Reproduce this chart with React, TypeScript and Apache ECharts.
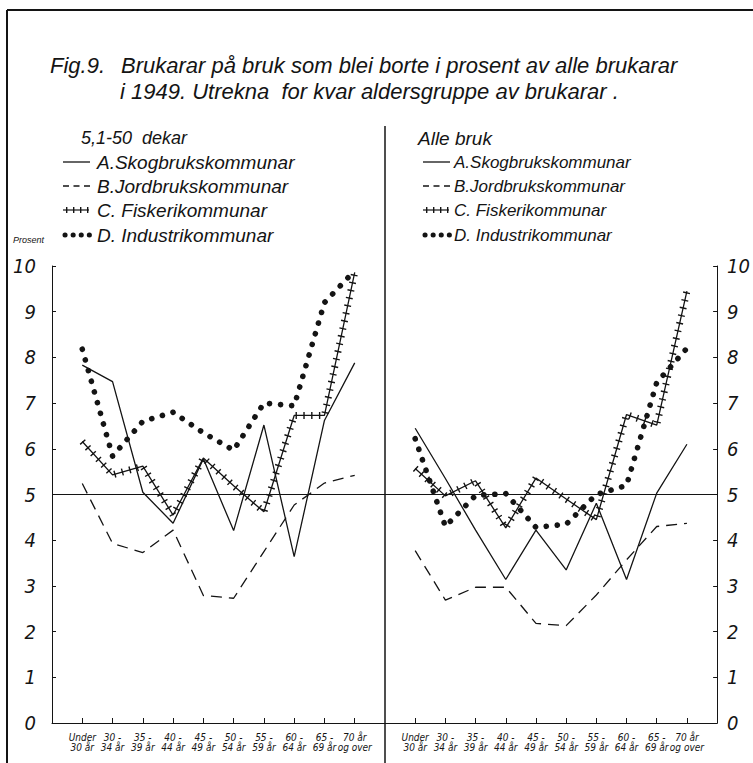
import React, { useEffect, useRef } from "react";
import * as echarts from "echarts";

const categories = [
  "Under\n30 år",
  "30 -\n34 år",
  "35 -\n39 år",
  "40 -\n44 år",
  "45 -\n49 år",
  "50 -\n54 år",
  "55 -\n59 år",
  "60 -\n64 år",
  "65 -\n69 år",
  "70 år\nog over",
];

const yTicks = { min: 0, max: 10, interval: 1 };

// 5,1-50 dekar
const leftA = [7.83, 7.47, 5.05, 4.37, 5.78, 4.21, 6.52, 3.64, 6.62, 7.88];
const leftB = [5.24, 3.93, 3.73, 4.22, 2.79, 2.73, 3.75, 4.77, 5.25, 5.42];
const leftC = [6.16, 5.43, 5.62, 4.55, 5.8, 5.19, 4.62, 6.73, 6.73, 9.86];
const leftD = [8.18, 5.84, 6.6, 6.8, 6.35, 5.97, 7.0, 6.94, 9.2, 9.9];

// Alle bruk
const rightA = [6.45, 5.35, 4.22, 3.14, 4.22, 3.35, 4.81, 3.14, 5.03, 6.1];
const rightB = [3.77, 2.69, 2.97, 2.97, 2.18, 2.13, 2.8, 3.57, 4.3, 4.37];
const rightC = [5.57, 4.97, 5.3, 4.27, 5.36, 4.9, 4.45, 6.75, 6.52, 9.45];
const rightD = [6.22, 4.3, 4.98, 5.02, 4.28, 4.35, 5.0, 5.2, 7.45, 8.2];

const legendNames = [
  "A.Skogbrukskommunar",
  "B.Jordbrukskommunar",
  "C. Fiskerikommunar",
  "D. Industrikommunar",
];
const panelTitles = ["5,1-50  dekar", "Alle bruk"];
const titleFig = "Fig.9.";
const titleLine1 = "Brukarar på bruk som blei borte i prosent av alle brukarar";
const titleLine2 = "i 1949. Utrekna  for kvar aldersgruppe av brukarar .";
const yName = "Prosent";

const INK = "#141414";
const FONT = "'Liberation Sans', Arial, sans-serif";
const NARROW = "'Liberation Sans Narrow', 'DejaVu Sans Condensed', 'Liberation Sans', sans-serif";

const pad = (a: number[]) => [null, ...a, null];
const xCats = ["", ...categories, ""];

function seriesFor(idx: number, a: number[], b: number[], c: number[], d: number[]) {
  const base = {
    type: "line",
    xAxisIndex: idx,
    yAxisIndex: idx,
    symbol: "none",
    silent: true,
    emphasis: { disabled: true },
  };
  return [
    {
      ...base,
      name: "A" + idx,
      data: pad(a),
      lineStyle: { color: INK, width: 1.3 },
      markLine: {
        silent: true,
        symbol: "none",
        label: { show: false },
        lineStyle: { color: INK, width: 1, type: "solid" },
        data: [{ yAxis: 5 }],
      },
    },
    {
      ...base,
      name: "B" + idx,
      data: pad(b),
      lineStyle: { color: INK, width: 1.3, type: [11, 7] },
    },
    {
      ...base,
      name: "C" + idx,
      data: pad(c),
      lineStyle: { color: INK, width: 1.3 },
    },
    {
      ...base,
      name: "Cx" + idx,
      data: pad(c),
      lineStyle: { color: INK, width: 7, type: [1.4, 6.4], cap: "butt", join: "bevel" },
    },
    {
      ...base,
      name: "D" + idx,
      data: pad(d),
      lineStyle: { color: INK, width: 5.6, type: [0.1, 11], cap: "round" },
    },
  ];
}

function xAxisFor(idx: number) {
  return {
    type: "category",
    gridIndex: idx,
    data: xCats,
    boundaryGap: false,
    axisLine: { lineStyle: { color: INK, width: 1 } },
    axisTick: {
      inside: true,
      length: 5,
      interval: (i: number) => i > 0 && i < xCats.length - 1,
      lineStyle: { color: INK },
    },
    axisLabel: {
      interval: 0,
      fontSize: 10,
      fontStyle: "italic",
      fontFamily: NARROW,
      color: INK,
      lineHeight: 10,
      margin: 9,
    },
    splitLine: { show: false },
  };
}

function yAxisFor(idx: number, pos: string, margin: number) {
  return {
    type: "value",
    gridIndex: idx,
    position: pos,
    ...yTicks,
    axisLine: { show: true, lineStyle: { color: INK, width: 1 } },
    axisTick: { show: true, inside: true, length: 4, lineStyle: { color: INK } },
    axisLabel: {
      fontSize: 20,
      fontStyle: "italic",
      fontFamily: NARROW,
      color: INK,
      margin,
    },
    splitLine: { show: false },
  };
}

function legendGraphics(
  lineX: number,
  textX: number,
  title: string,
  titleX: number,
  titleSize: number,
  size: number
) {
  const rows = [162, 186, 210, 235];
  const g: any[] = [];
  const txt = (x: number, y: number, s: string, fs: number) => ({
    type: "text",
    x,
    y,
    style: {
      text: s,
      fontSize: fs,
      fontStyle: "italic",
      fontFamily: FONT,
      fill: INK,
      verticalAlign: "middle",
    },
  });
  g.push(txt(titleX, 138, title, titleSize));
  legendNames.forEach((n, i) => g.push(txt(textX, rows[i], n, size)));
  g.push({
    type: "line",
    shape: { x1: lineX, y1: rows[0], x2: lineX + 27, y2: rows[0] },
    style: { stroke: INK, lineWidth: 1.3 },
  });
  g.push({
    type: "line",
    shape: { x1: lineX, y1: rows[1], x2: lineX + 31, y2: rows[1] },
    style: { stroke: INK, lineWidth: 1.3, lineDash: [6, 4.5] },
  });
  g.push({
    type: "line",
    shape: { x1: lineX, y1: rows[2], x2: lineX + 26, y2: rows[2] },
    style: { stroke: INK, lineWidth: 1.2 },
  });
  g.push({
    type: "line",
    shape: { x1: lineX + 3, y1: rows[2], x2: lineX + 26, y2: rows[2] },
    style: { stroke: INK, lineWidth: 6, lineDash: [1.4, 5.6] },
  });
  g.push({
    type: "line",
    shape: { x1: lineX + 2, y1: rows[3], x2: lineX + 27, y2: rows[3] },
    style: { stroke: INK, lineWidth: 5, lineDash: [0.1, 8], lineCap: "round" },
  });
  return g;
}

export default function App() {
  const ref = useRef<HTMLDivElement>(null);
  useEffect(() => {
    if (!ref.current) return;
    const chart = echarts.init(ref.current, null, { renderer: "svg" });
    const titleText = (x: number, y: number, s: string) => ({
      type: "text",
      x,
      y,
      style: {
        text: s,
        fontSize: 22,
        fontStyle: "italic",
        fontFamily: FONT,
        fill: INK,
        verticalAlign: "middle",
      },
    });
    const option: any = {
      animation: false,
      backgroundColor: "#ffffff",
      grid: [
        { left: 52, right: 368, top: 266, bottom: 40 },
        { left: 385, right: 35, top: 266, bottom: 40 },
      ],
      xAxis: [xAxisFor(0), xAxisFor(1)],
      yAxis: [yAxisFor(0, "left", 16), yAxisFor(1, "right", 10)],
      series: [
        ...seriesFor(0, leftA, leftB, leftC, leftD),
        ...seriesFor(1, rightA, rightB, rightC, rightD),
      ],
      graphic: [
        { type: "line", shape: { x1: 7, y1: 10, x2: 753, y2: 10 }, style: { stroke: INK, lineWidth: 2 } },
        { type: "line", shape: { x1: 7, y1: 10, x2: 7, y2: 763 }, style: { stroke: INK, lineWidth: 2 } },
        { type: "line", shape: { x1: 385, y1: 126, x2: 385, y2: 763 }, style: { stroke: INK, lineWidth: 1.5 } },
        titleText(50, 65, titleFig),
        titleText(121, 65, titleLine1),
        titleText(120, 91, titleLine2),
        {
          type: "text",
          x: 13,
          y: 240,
          style: {
            text: yName,
            fontSize: 9,
            fontStyle: "italic",
            fontFamily: FONT,
            fill: INK,
            verticalAlign: "middle",
          },
        },
        ...legendGraphics(63, 97, panelTitles[0], 81, 18, 19),
        ...legendGraphics(423, 454, panelTitles[1], 418, 19, 17),
      ],
    };
    chart.setOption(option);
    return () => chart.dispose();
  }, []);
  return (
    <div
      ref={ref}
      style={{ position: "absolute", left: 0, top: 0, width: 753, height: 763, background: "#fff" }}
    />
  );
}
